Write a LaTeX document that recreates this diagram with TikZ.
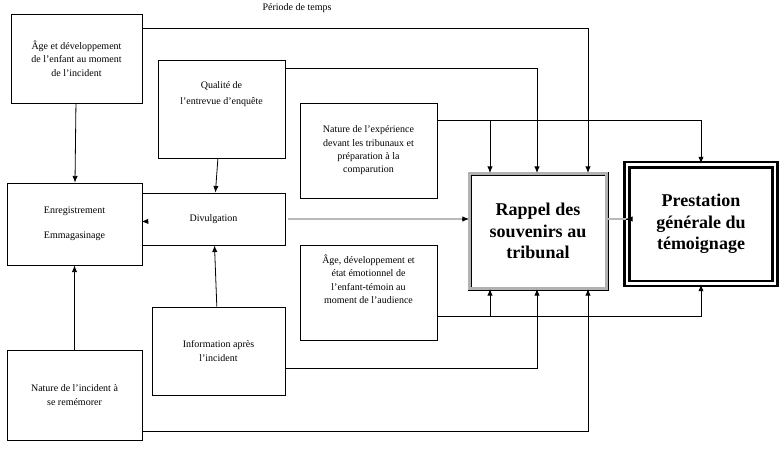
\documentclass[tikz,border=0pt]{standalone}
\usepackage{fontspec}
\setmainfont{Liberation Serif}
\usetikzlibrary{arrows.meta,calc}
\newcommand\pxl[1]{#1*0.75pt}

\begin{document}
\begin{tikzpicture}[x=0.75pt,y=-0.75pt,
	box/.style={draw, line width=.6pt, align=center, inner sep=2pt, font=\fontsize{7.5}{10}\selectfont},
	big/.style={align=center, font=\fontsize{13.5}{16}\selectfont\bfseries},
	link/.style={line width=.6pt, -{Latex[length=5pt,width=4pt]}},
	grise/.style={line width=1.2pt, gray!55}]
		\useasboundingbox (0,0) rectangle (783,450);
		\node[font=\fontsize{7.5}{9}\selectfont] (titre) at (297,8) {Période de temps};
		
		% Colonne gauche
		\node[box, minimum width=\pxl{131}, minimum height=\pxl{89}] (age) at (76.5,58.5) {Âge et développement\\de l’enfant au moment\\de l’incident};
		\node[box, minimum width=\pxl{135}, minimum height=\pxl{82}] (enr) at (74.5,224) {Enregistrement\\[9pt]Emmagasinage};
		\node[box, minimum width=\pxl{135}, minimum height=\pxl{90}] (nat) at (74.5,395) {Nature de l’incident à\\se remémorer};
		
		% Colonne centrale
		\node[box, minimum width=\pxl{127}, minimum height=\pxl{98}] (qual) at (221.5,109) {Qualité de\\[2pt]l’entrevue d’enquête\\[14pt]};
		\node[box, minimum width=\pxl{143}, minimum height=\pxl{52}] (div) at (213.5,219) {Divulgation};
		\node[box, minimum width=\pxl{133}, minimum height=\pxl{88}] (info) at (218.5,351) {Information après\\l’incident};
		\node[box, minimum width=\pxl{137}, minimum height=\pxl{95}] (exp) at (368.5,150.5) {Nature de l’expérience\\devant les tribunaux et\\préparation à la\\comparution};
		\node[box, minimum width=\pxl{137}, minimum height=\pxl{95}] (emo) at (368.5,292.5) {Âge, développement et\\état émotionnel de\\l’enfant-témoin au\\moment de l’audience\\[10pt]};
		
		% Sorties
		\node[big, draw, line width=.7pt, double=gray!60, double distance=1.6pt, minimum width=\pxl{137}, minimum height=\pxl{115}] (rap) at (538,231) {Rappel des\\souvenirs au\\tribunal};
		\node[big, draw, line width=1.6pt, double=white, double distance=2.2pt, minimum width=\pxl{148}, minimum height=\pxl{119}] (pres) at (701,224) {Prestation\\générale du\\témoignage};
		\draw[line width=.6pt] ($(pres.north west)+(4.5,4.5)$) rectangle ($(pres.south east)+(-4.5,-4.5)$);
		
		% Liens verticaux
		\draw[link] (age) -- (enr);
		\draw[link] (nat) -- (enr);
		\draw[link] (enr) -- (div);
		\draw[link] (qual) -- (div);
		\draw[link] (info) -- (div);
		\draw[grise] ($(div.east)+(3,0)$) -- ($(rap.west |- div.east)+(-6,0)$);
		\draw[link] ($(rap.west |- div.east)+(-7,0)$) -- (rap.west |- div.east);
		\draw[grise] (rap.east |- div.east) -- ++(20,0);
		\draw[link] ($(rap.east |- div.east)+(19,0)$) -- (pres.west |- div.east);
		
		% Liens vers le haut
		\draw[link] (age.east |- 0,28) -| (rap.north -| 588,0);
		\draw[link] (qual.east |- 0,68) -| (rap.north -| 537,0);
		\draw[link] (exp.east |- 0,120) -| (pres.north);
		\draw[link] (exp.east |- 0,120) -| (rap.north -| 490,0);
		
		% Liens vers le bas
		\draw[link] (emo.east |- 0,316) -| (pres.south);
		\draw[link] (emo.east |- 0,316) -| (rap.south -| 490,0);
		\draw[link] (info.east |- 0,368) -| (rap.south -| 537,0);
		\draw[link] (nat.east |- 0,431) -| (rap.south -| 588,0);
\end{tikzpicture}
\end{document}
